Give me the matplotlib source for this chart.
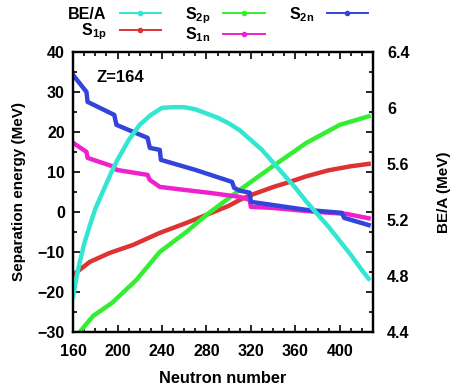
import matplotlib
matplotlib.use('Agg')
import matplotlib.pyplot as plt
from matplotlib.lines import Line2D
from matplotlib.ticker import MultipleLocator, FormatStrFormatter

plt.rcParams['font.family'] = ['Liberation Sans', 'DejaVu Sans']
plt.rcParams['font.weight'] = 'bold'
plt.rcParams['mathtext.fontset'] = 'custom'
plt.rcParams['mathtext.rm'] = 'Liberation Sans:bold'
plt.rcParams['mathtext.bf'] = 'Liberation Sans:bold'
plt.rcParams['mathtext.it'] = 'Liberation Sans:bold'

# BE/A (right axis)
n_bea = [160, 163, 166, 170, 175, 180, 185, 190, 195, 200, 210, 220, 230, 240, 250, 260, 270,
         280, 290, 300, 310, 320, 330, 340, 350, 360, 370, 380, 390, 400, 410, 420, 426]
bea = [4.65, 4.79, 4.90, 5.03, 5.16, 5.28, 5.37, 5.46, 5.55, 5.63, 5.77, 5.88, 5.95, 6.00, 6.005,
       6.005, 5.99, 5.96, 5.93, 5.89, 5.84, 5.77, 5.70, 5.61, 5.52, 5.43, 5.33, 5.24, 5.15, 5.05,
       4.95, 4.84, 4.78]

# one-proton separation
n_s1p = [160, 175, 193, 214, 238, 262, 280, 300, 310, 320, 340, 355, 370, 390, 410, 426]
s1p = [-15.75, -12.5, -10.25, -8.25, -5.25, -2.75, -0.75, 1.5, 3.0, 4.2, 6.2, 7.5, 8.9, 10.4, 11.4, 12.0]

# two-proton separation
n_s2p = [160, 166, 178, 195, 217, 238, 262, 280, 298, 310, 339, 370, 400, 426]
s2p = [-32.5, -30.0, -26.0, -22.75, -17.0, -10.0, -5.0, -0.75, 3.0, 5.5, 11.25, 17.25, 21.75, 23.9]

# one-neutron separation
n_s1n = [160, 172, 173, 197, 199, 227, 229, 238, 260, 283, 310, 319, 320, 339, 379, 406, 426]
s1n = [17.25, 15.0, 13.5, 11.25, 10.5, 9.25, 8.0, 6.25, 5.5, 4.75, 3.75, 3.0, 1.25, 1.0, 0.0, -0.5, -1.6]

# two-neutron separation
n_s2n = [160, 172, 173, 197, 199, 227, 229, 238, 239, 270, 303, 305, 310, 319, 320, 339, 370,
         402, 404, 426]
s2n = [34.2, 30.0, 27.5, 24.25, 21.75, 18.5, 16.0, 15.5, 13.0, 10.5, 7.5, 6.0, 5.3, 4.8, 2.5, 1.75,
       0.5, -0.25, -1.5, -3.3]

c_bea = '#33e6d2'
c_s1p = '#dd3333'
c_s2p = '#33ee33'
c_s1n = '#ee22cc'
c_s2n = '#3344dd'

fig = plt.figure(figsize=(4.6, 3.9), dpi=100)
ax = fig.add_axes([0.159, 0.149, 0.652, 0.718])
ax2 = ax.twinx()

lw = 3.2
ax.plot(n_s1p, s1p, color=c_s1p, lw=lw)
ax.plot(n_s2p, s2p, color=c_s2p, lw=lw)
ax.plot(n_s1n, s1n, color=c_s1n, lw=lw)
ax.plot(n_s2n, s2n, color=c_s2n, lw=lw)
ax2.plot(n_bea, bea, color=c_bea, lw=lw)

ax.set_xlim(160, 430)
ax.set_ylim(-30, 40)
ax2.set_ylim(4.4, 6.4)

ax.xaxis.set_major_locator(MultipleLocator(40))
ax.xaxis.set_minor_locator(MultipleLocator(10))
ax.yaxis.set_major_locator(MultipleLocator(10))
ax.yaxis.set_minor_locator(MultipleLocator(5))
ax2.yaxis.set_major_locator(MultipleLocator(0.4))
ax2.yaxis.set_major_formatter(FormatStrFormatter('%g'))

ax.tick_params(which='both', direction='in', top=True, right=True, labelsize=11.5, width=1.2)
ax.tick_params(which='major', length=5)
ax.tick_params(axis='y', which='major', pad=6)
ax.tick_params(axis='x', which='major', pad=9)
ax.tick_params(which='minor', length=3)
ax2.tick_params(axis='y', length=0, labelsize=11.5, pad=10)
for t in ax.get_xticklabels() + ax.get_yticklabels() + ax2.get_yticklabels():
    t.set_fontweight('bold')
for a in (ax, ax2):
    for s in a.spines.values():
        s.set_linewidth(1.6)

ax.set_xlabel('Neutron number', fontsize=11.8, fontweight='bold', labelpad=8)
ax.set_ylabel('Separation energy (MeV)', fontsize=11, fontweight='bold', labelpad=8)
ax2.set_ylabel('BE/A (MeV)', fontsize=11, fontweight='bold', labelpad=20)

ax.text(181, 33.5, 'Z=164', fontsize=12, fontweight='bold', va='center')

handles = [
    Line2D([], [], color=c_bea, lw=1.4, marker='o', ms=3),
    Line2D([], [], color=c_s1p, lw=1.4, marker='o', ms=3),
    Line2D([], [], color=c_s2p, lw=1.4, marker='o', ms=3),
    Line2D([], [], color=c_s1n, lw=1.4, marker='o', ms=3),
    Line2D([], [], color=c_s2n, lw=1.4, marker='o', ms=3),
]
labels = ['BE/A', '   $\\mathbf{S_{1p}}$', '$\\mathbf{S_{2p}}$', '$\\mathbf{S_{1n}}$', '$\\mathbf{S_{2n}}$']
fig.legend(handles, labels, ncol=3, loc='upper left', bbox_to_anchor=(60 / 460, 1 + 3 / 390),
           frameon=False, markerfirst=False, numpoints=1, handlelength=2.6, borderpad=0,
           columnspacing=1.5, labelspacing=-0.02, handletextpad=0.8,
           prop={'size': 11.5, 'weight': 'bold'})

fig.savefig('out.png', dpi=100)
